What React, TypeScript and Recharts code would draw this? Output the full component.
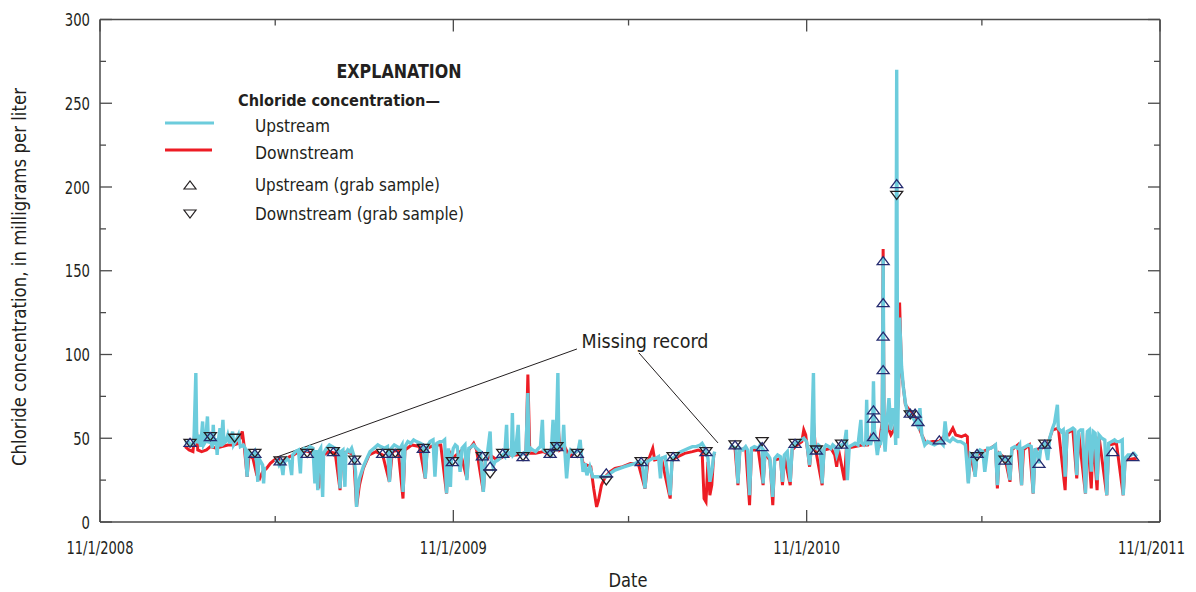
import React from 'react';
import { ComposedChart, Line, Scatter, XAxis, YAxis, ReferenceLine } from 'recharts';

// x values: days since 11/1/2008; y values: chloride, mg/L
const upstreamReadings: [number, number | null][] = [
  [88,47],[91,48],[94,46],[97,47],[99,89],[100,47],[102,52],[104,45],[106,60],[107,46],[109,48],[111,63],[112,47],[114,50],[116,44],[117,58],[118,46],[120,50],[121,40],[122,48],[124,56],[125,45],[127,61],[128,47],[130,48],[132,52],[134,47],[137,54],[138,46],[140,48],[143,52],[145,45],[148,46],[150,44],[152,27],[153,42],[155,41],[158,40],[160,42],[162,35],[163,24],[164,38],[166,36],[168,34],[169,23],[170,33],[172,null],
  [181,36],[183,37],[185,34],[187,36],[189,28],[190,35],[193,38],[196,36],[198,28],[199,40],[202,42],[205,43],[207,29],[208,42],[211,44],[214,43],[217,45],[220,44],[222,23],[223,43],[225,19],[226,42],[228,44],[230,15],[231,41],[234,44],[237,46],[240,45],[243,44],[246,43],[248,20],[249,42],[251,43],[253,21],[254,41],[256,43],[258,42],[260,44],[262,40],[264,30],[265,9],[266,18],[268,26],[272,33],[275,37],[279,42],[283,44],[287,46],[290,45],[294,44],[297,45],[299,24],[301,44],
  [304,46],[307,45],[310,44],[312,46],[313,18],[315,45],[318,48],[321,47],[324,49],[327,48],[331,47],[334,46],[336,26],[338,45],[341,48],[344,49],[346,27],[348,47],[351,48],[354,48],[356,49],[358,17],[360,44],[362,21],[363,38],[365,44],[367,46],[369,45],[372,30],[374,44],[377,46],[379,25],[381,44],[384,45],[386,46],[389,44],[393,42],[396,18],[398,36],[400,40],[403,54],[404,38],[406,33],[408,36],[411,37],[413,38],[416,40],[418,39],[420,58],[421,40],[423,41],[425,40],[426,65],[427,40],[429,41],[432,58],[433,41],[435,40],[437,41],[440,42],[442,77],[443,42],[445,44],[447,43],[450,42],[453,44],[455,45],[457,61],[458,43],[460,42],[462,42],[464,41],[466,40],[468,61],[469,43],[471,44],[473,89],[474,44],[476,45],[478,46],[479,58],[480,44],[482,26],[484,40],[486,43],[488,42],[490,41],[492,42],[494,43],
  [496,49],[497,42],[499,30],[501,35],[503,28],[506,33],[509,27],[523,27],[527,29],[532,31],[537,32],[542,33],[547,34],[553,35],[556,36],[558,36],[560,35],[563,20],[565,36],[568,37],[571,38],[574,38],[577,39],[579,26],[580,38],[584,39],[589,16],[591,38],[594,39],[597,41],[600,42],[604,43],[608,44],[612,45],[616,45],[620,46],[622,47],[624,45],[626,42],[628,38],[630,24],[632,30],[634,40],[635,42],[643,null],
  [651,46],[654,45],[657,44],[659,23],[661,44],[664,43],[667,45],[669,43],[671,16],[673,44],[676,45],[680,44],[682,46],[684,44],[685,23],[687,42],[690,40],[692,38],[695,15],[697,38],[700,40],[703,39],[705,24],[707,40],[710,42],[713,24],[715,44],[718,47],[721,48],[724,49],[727,50],[730,48],[733,34],[735,46],[737,89],[738,45],[740,44],[742,46],[744,45],[746,23],[748,44],[750,46],[753,45],[755,44],[757,46],[759,45],[761,40],[763,44],[766,46],[769,47],[771,55],[772,25],[774,45],[777,46],[780,47],[783,46],[786,61],[787,47],[789,46],[791,48],[792,73],[793,47],[795,48],[796,46],[798,52],[799,84],[800,55],[802,45],[803,40],[805,48],[806,46],[808,55],[809,158],[810,50],[811,42],[813,60],[815,74],[817,55],[819,68],[821,60],[822,46],[823,270],[824,50],[826,122],[828,93],[830,80],[832,71],[834,66],[837,64],[840,62],[842,60],[845,57],[847,68],[849,52],[852,46],[855,48],[858,47],[862,46],[865,47],[868,48],[871,46],[873,60],[875,49],[878,48],[881,50],[883,49],[886,48],[889,48],[892,47],[894,46],[897,23],[899,41],[902,40],[904,27],[906,41],[909,43],[912,42],[914,30],[917,44],[920,44],[923,45],[925,46],[927,22],[929,42],[932,38],[935,37],[937,38],[940,25],[942,44],[945,45],[948,44],[950,46],[952,22],[953,44],[956,45],[959,46],[962,45],[964,17],[966,44],[969,40],[970,35],[972,45],[974,46],[976,47],[979,37],[981,50],[984,56],[986,59],[989,70],[990,56],[993,54],[995,55],[997,27],[999,54],[1002,55],[1005,56],[1007,55],[1009,28],[1011,54],[1013,55],[1015,55],[1018,17],[1020,54],[1022,55],[1024,30],[1026,54],[1028,53],[1030,25],[1032,52],[1035,50],[1038,49],[1040,16],[1042,47],[1045,48],[1048,49],[1050,48],[1053,48],[1056,49],[1057,16],[1059,38],[1062,40],[1065,40],[1068,41],[1071,39],
];

const downstreamReadings: [number, number | null][] = [
  [88,45],[92,43],[96,42],[99,60],[101,43],[105,42],[110,43],[114,45],[120,44],[126,45],[132,46],[138,46],[143,47],[147,54],[149,45],[152,27],[154,40],[158,38],[162,28],[165,26],[168,30],[172,32],[176,35],[180,37],[184,38],[187,36],[190,37],[196,39],[200,40],[205,42],[210,43],[215,42],[220,41],[226,20],[228,41],[231,40],[236,42],[243,41],[248,19],[250,41],[256,42],[262,40],[265,9],[268,22],[272,32],[278,40],[285,42],[292,40],[299,24],[302,42],[308,43],[313,14],[315,43],[322,46],[330,45],[336,26],[338,44],[346,46],[352,46],[358,17],[360,43],[364,38],[372,42],[379,26],[381,43],[386,47],[389,43],[396,18],[398,36],[403,40],[410,37],[420,40],[430,40],[440,41],[442,88],[444,41],[450,41],[458,42],[465,40],[473,60],[475,43],[480,45],[485,39],[490,41],[496,44],[499,35],[503,34],[507,33],[510,20],[513,9],[515,13],[518,22],[522,27],[527,30],[532,32],[540,33],[548,35],[556,35],[563,20],[566,36],[571,44],[573,37],[580,38],[589,14],[591,37],[597,39],[604,41],[612,42],[618,43],[622,42],[624,14],[626,12],[628,36],[630,16],[632,22],[634,40],[635,41],[643,null],
  [651,45],[656,44],[659,22],[661,43],[667,44],[671,10],[673,43],[680,43],[685,22],[687,41],[692,37],[695,10],[697,37],[703,38],[705,22],[707,39],[713,22],[715,43],[720,46],[725,48],[727,55],[729,52],[733,33],[735,45],[737,60],[739,44],[746,22],[748,43],[755,44],[759,40],[761,33],[763,43],[769,25],[771,44],[780,45],[787,46],[793,46],[799,55],[801,48],[805,46],[808,60],[809,163],[810,48],[813,58],[817,52],[820,55],[823,60],[825,75],[826,131],[828,90],[832,70],[837,66],[842,62],[845,58],[849,52],[853,47],[860,48],[867,48],[873,52],[877,52],[881,56],[884,52],[890,51],[894,52],[896,51],[897,24],[899,40],[904,28],[906,40],[912,42],[920,44],[925,46],[927,20],[929,41],[935,38],[940,24],[942,43],[948,46],[952,22],[954,43],[960,46],[964,17],[966,43],[972,44],[978,45],[984,55],[990,56],[997,19],[999,53],[1005,55],[1009,26],[1011,53],[1018,17],[1020,53],[1024,20],[1026,52],[1030,19],[1032,51],[1040,16],[1042,46],[1050,47],[1057,16],[1059,37],[1071,38],
];

const upstreamGrab: [number, number][] = [
  [93,47.5],[114,51],[160,41],[186,36.5],[214,41],[241,42],[263,37],[292,41],[305,41],[334,44],[364,36],[395,39.5],[403,33.4],[416,41],[437,39],[465,41],[472,45],[493,41],[523,29.3],[559,36],[592,39],[626,42],[656,46],[684,45],[718,47],[740,43],[766,46.5],[799,51],[799,62],[799,67],[809,91],[809,111],[809,131],[809,156],[823,202],[837,65],[842,65],[845,60],[867,49],[906,41],[935,37],[970,35],[976,46.5],[1046,42],[1067,39],
];

const downstreamGrab: [number, number][] = [
  [93,47],[114,51],[139,50],[160,41],[186,36.5],[214,41],[241,42],[263,37],[292,41],[305,41],[334,44],[364,36],[395,39],[403,28.7],[416,41],[437,39],[465,41],[472,45],[493,41],[523,24.5],[559,36],[592,39],[626,42],[656,46],[684,48],[718,47],[740,43],[766,46.5],[823,195],[837,64],[906,39],[935,37],[976,46.5],
];

const xTicks = [0, 181, 365, 546, 730, 911, 1095];
const xTickLabels = ['11/1/2008', '', '11/1/2009', '', '11/1/2010', '', '11/1/2011'];
const yTicks = [0, 25, 50, 75, 100, 125, 150, 175, 200, 225, 250, 275, 300];

// "Missing record" leader lines, in data units [day, mg/L]
const missingLeaders: [[number, number], [number, number]][] = [
  [[492.7, 103.3], [182.8, 38.8]],
  [[556.8, 100.9], [638.4, 47.2]],
];

const CYAN = '#6CCCDC';
const RED = '#ED1C24';
const NAVY = '#262C70';
const INK = '#231F20';
const AXIS = '#4a4a4a';
const FONT = "'Liberation Sans Narrow', 'Arial Narrow', 'DejaVu Sans Condensed', sans-serif";

const toPts = (arr: [number, number | null][]) => arr.map(([d, v]) => ({ d, v }));
const upPts = toPts(upstreamReadings);
const downPts = toPts(downstreamReadings);
const upGrabPts = toPts(upstreamGrab);
const downGrabPts = toPts(downstreamGrab);

const isMajorX = (v: number) => xTickLabels[xTicks.indexOf(v)] !== '';
const isMajorY = (v: number) => v % 50 === 0;

const BottomTick = (p: any) => {
  const { x, y, payload } = p;
  const i = xTicks.indexOf(payload.value);
  const major = isMajorX(payload.value);
  const last = i === xTicks.length - 1;
  return (
    <g>
      <line x1={x} x2={x} y1={y} y2={y - (major ? 12 : 6)} stroke={AXIS} strokeWidth={1.3} />
      {major && (
        <text x={last ? x + 25 : x} y={y + 32} textAnchor={last ? 'end' : 'middle'} fontSize={18} fill={INK} fontFamily={FONT}
          textLength={67} lengthAdjust="spacingAndGlyphs">
          {xTickLabels[i]}
        </text>
      )}
    </g>
  );
};
const TopTick = (p: any) => {
  const { x, y, payload } = p;
  const major = isMajorX(payload.value);
  return <line x1={x} x2={x} y1={y} y2={y + (major ? 12 : 6)} stroke={AXIS} strokeWidth={1.3} />;
};
const LeftTick = (p: any) => {
  const { x, y, payload } = p;
  const major = isMajorY(payload.value);
  const label = String(payload.value);
  return (
    <g>
      <line x1={x} x2={x + (major ? 12 : 6)} y1={y} y2={y} stroke={AXIS} strokeWidth={1.3} />
      {major && (
        <text x={x - 10} y={y + 6.5} textAnchor="end" fontSize={18} fill={INK} fontFamily={FONT}
          textLength={label.length * 8.4} lengthAdjust="spacingAndGlyphs">
          {label}
        </text>
      )}
    </g>
  );
};
const RightTick = (p: any) => {
  const { x, y, payload } = p;
  const major = isMajorY(payload.value);
  return <line x1={x} x2={x - (major ? 12 : 6)} y1={y} y2={y} stroke={AXIS} strokeWidth={1.3} />;
};

const upTriPoints = (cx: number, cy: number) => `${cx - 6},${cy + 4} ${cx + 6},${cy + 4} ${cx},${cy - 4}`;
const downTriPoints = (cx: number, cy: number) => `${cx - 6},${cy - 4} ${cx + 6},${cy - 4} ${cx},${cy + 4}`;

const UpTri = (p: any) => (
  <polygon points={upTriPoints(p.cx, p.cy)} fill="none" stroke={NAVY} strokeWidth={1.3} />
);
const DownTri = (p: any) => (
  <polygon points={downTriPoints(p.cx, p.cy)} fill="none" stroke={INK} strokeWidth={1.3} />
);

export default function App() {
  return (
    <div style={{ position: 'relative', width: 1180, height: 584 }}>
      <ComposedChart width={1180} height={576} margin={{ top: 0, right: 0, bottom: 0, left: 0 }}>
        <XAxis xAxisId="b" dataKey="d" type="number" domain={[0, 1095]} ticks={xTicks} interval={0}
          height={62} tickSize={0} tickMargin={0} tick={<BottomTick />} stroke={AXIS} strokeWidth={1.5} allowDataOverflow />
        <XAxis xAxisId="t" orientation="top" dataKey="d" type="number" domain={[0, 1095]} ticks={xTicks} interval={0}
          height={11.5} tickSize={0} tickMargin={0} tick={<TopTick />} stroke={AXIS} strokeWidth={1.5} allowDataOverflow />
        <YAxis yAxisId="l" type="number" domain={[0, 300]} ticks={yTicks} interval={0} width={92}
          tickSize={0} tickMargin={0} tick={<LeftTick />} stroke={AXIS} strokeWidth={1.5} allowDataOverflow />
        <YAxis yAxisId="r" orientation="right" type="number" domain={[0, 300]} ticks={yTicks} interval={0} width={28}
          tickSize={0} tickMargin={0} tick={<RightTick />} stroke={AXIS} strokeWidth={1.5} allowDataOverflow />
        {missingLeaders.map((seg, i) => (
          <ReferenceLine key={i} xAxisId="b" yAxisId="l"
            segment={[{ x: seg[0][0], y: seg[0][1] }, { x: seg[1][0], y: seg[1][1] }]}
            stroke={INK} strokeWidth={1} />
        ))}
        <Line xAxisId="b" yAxisId="l" data={downPts} dataKey="v" stroke={RED} strokeWidth={3}
          dot={false} activeDot={false} isAnimationActive={false} type="linear" />
        <Line xAxisId="b" yAxisId="l" data={upPts} dataKey="v" stroke={CYAN} strokeWidth={3.4}
          dot={false} activeDot={false} isAnimationActive={false} type="linear" />
        <Scatter xAxisId="b" yAxisId="l" data={downGrabPts} dataKey="v" shape={DownTri} isAnimationActive={false} />
        <Scatter xAxisId="b" yAxisId="l" data={upGrabPts} dataKey="v" shape={UpTri} isAnimationActive={false} />
      </ComposedChart>
      <svg width={1180} height={584} style={{ position: 'absolute', left: 0, top: 0, pointerEvents: 'none' }}>
        <g transform="translate(-8,-8)" fontFamily={FONT} fill={INK}>
          <text x={399} y={78} textAnchor="middle" fontSize={19} fontWeight="bold" textLength={125} lengthAdjust="spacingAndGlyphs">EXPLANATION</text>
          <text x={238} y={106} fontSize={16.5} fontWeight="bold" textLength={202} lengthAdjust="spacingAndGlyphs">Chloride concentration—</text>
          <line x1={165} x2={214} y1={123} y2={123} stroke={CYAN} strokeWidth={3} />
          <text x={255} y={132} fontSize={17} textLength={75} lengthAdjust="spacingAndGlyphs">Upstream</text>
          <line x1={165} x2={212} y1={150} y2={150} stroke={RED} strokeWidth={3} />
          <text x={255} y={159} fontSize={17} textLength={99} lengthAdjust="spacingAndGlyphs">Downstream</text>
          <polygon points={upTriPoints(190, 185)} fill="none" stroke={INK} strokeWidth={1.2} />
          <text x={255} y={191} fontSize={17} textLength={185} lengthAdjust="spacingAndGlyphs">Upstream (grab sample)</text>
          <polygon points={downTriPoints(190, 214)} fill="none" stroke={INK} strokeWidth={1.2} />
          <text x={255} y={220} fontSize={17} textLength={209} lengthAdjust="spacingAndGlyphs">Downstream (grab sample)</text>
          <text x={645} y={348} textAnchor="middle" fontSize={19} textLength={127} lengthAdjust="spacingAndGlyphs">Missing record</text>
          <text x={628} y={587} textAnchor="middle" fontSize={19} textLength={39} lengthAdjust="spacingAndGlyphs">Date</text>
          <text transform="translate(26,277) rotate(-90)" textAnchor="middle" fontSize={19} textLength={378} lengthAdjust="spacingAndGlyphs">
            Chloride concentration, in milligrams per liter
          </text>
        </g>
      </svg>
    </div>
  );
}
